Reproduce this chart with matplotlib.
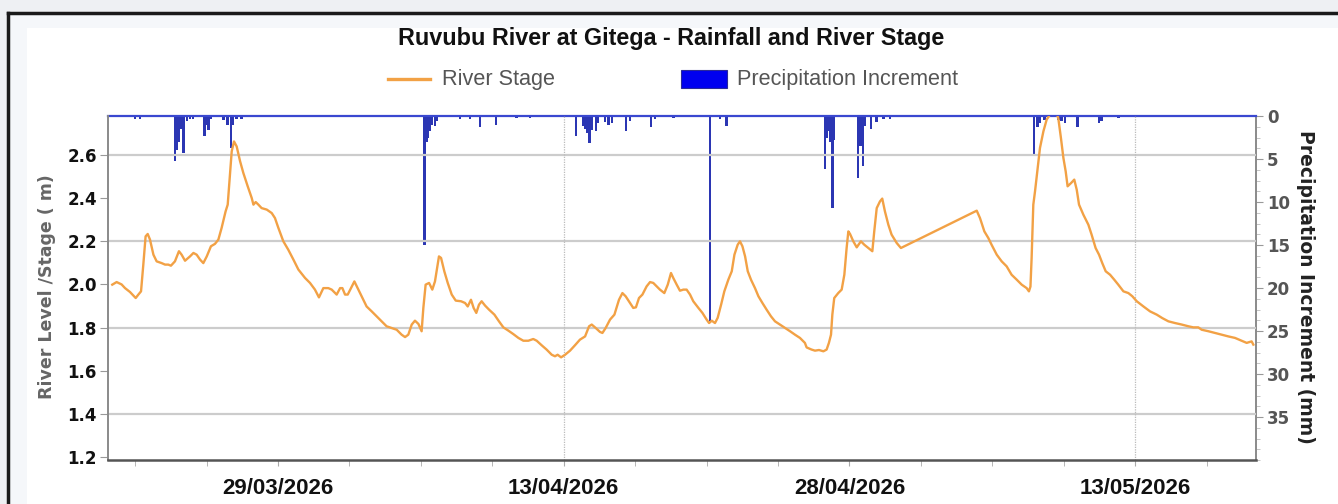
import pandas as pd
import matplotlib
matplotlib.use('Agg')
import matplotlib.pyplot as plt
import matplotlib.dates as mdates
from matplotlib import font_manager
from matplotlib.lines import Line2D
from matplotlib.patches import Rectangle
from matplotlib.ticker import FixedLocator, MultipleLocator, AutoMinorLocator

# days since 20/03/2026 00:00
base = pd.Timestamp('2026-03-20')

stage_day = [0.30, 0.53, 0.79, 0.97, 1.23, 1.53, 1.67, 1.81, 1.93, 2.05, 2.16, 2.28, 2.46, 2.63,
             2.89, 3.07, 3.24, 3.38, 3.59, 3.80, 3.94, 4.12, 4.38, 4.56, 4.73, 4.91, 5.08, 5.26,
             5.48, 5.69, 5.87, 6.04, 6.25, 6.36, 6.48, 6.57, 6.69, 6.83, 7.01, 7.18, 7.41, 7.62,
             7.71, 7.83, 7.97, 8.14, 8.41, 8.67, 8.84, 9.02, 9.28, 9.54, 9.81, 10.07, 10.42, 10.68,
             10.94, 11.15, 11.38, 11.64, 11.82, 12.08, 12.26, 12.38, 12.52, 12.66, 12.83, 13.01,
             13.18, 13.39, 13.65, 13.92, 14.18, 14.44, 14.70, 14.97, 15.23, 15.49, 15.67, 15.84,
             16.02, 16.19, 16.37, 16.54, 16.63, 16.75, 16.93, 17.10, 17.24, 17.45, 17.56, 17.73,
             17.91, 18.12, 18.33, 18.61, 18.82, 18.96, 19.13, 19.27, 19.41, 19.55, 19.69, 19.87,
             20.08, 20.36, 20.60, 20.83, 21.09, 21.35, 21.62, 21.88, 22.14, 22.40, 22.58, 22.84,
             23.10, 23.37, 23.54, 23.68, 23.86, 24.07, 24.33, 24.59, 24.85, 25.12, 25.33, 25.47,
             25.68, 25.90, 26.03, 26.20, 26.43, 26.66, 26.90, 27.08, 27.25, 27.48, 27.65, 27.79,
             27.95, 28.13, 28.35, 28.53, 28.70, 28.88, 29.05, 29.28, 29.46, 29.63, 29.75, 29.93,
             30.10, 30.28, 30.45, 30.63, 30.80, 31.07, 31.28, 31.50, 31.63, 31.77, 31.94, 32.08,
             32.26, 32.43, 32.64, 32.82, 32.96, 33.13, 33.25, 33.38, 33.52, 33.66, 33.83, 34.04,
             34.22, 34.43, 34.65, 34.88, 35.09, 35.35, 35.62, 35.88, 36.14, 36.40, 36.66, 36.75,
             37.01, 37.19, 37.40, 37.63, 37.80, 37.92, 38.03, 38.10, 38.20, 38.41, 38.59, 38.73,
             38.85, 38.94, 39.03, 39.20, 39.38, 39.50, 39.60, 39.78, 39.99, 40.20, 40.30, 40.43,
             40.60, 40.72, 40.86, 41.04, 41.21, 41.48, 41.70, 45.68, 45.85, 46.08, 46.29, 46.46,
             46.73, 46.99, 47.25, 47.51, 47.78, 48.04, 48.30, 48.42, 48.50, 48.56, 48.65, 48.74,
             48.88, 49.00, 49.18, 49.35, 49.58, 49.82, 49.96, 50.10, 50.23, 50.35, 50.45, 50.63,
             50.80, 50.93, 51.05, 51.28, 51.54, 51.71, 51.92, 52.10, 52.27, 52.45, 52.68, 52.90,
             53.11, 53.38, 53.64, 53.85, 54.08, 54.43, 54.78, 55.13, 55.42, 55.74, 56.09, 56.44,
             56.79, 57.05, 57.31, 57.49, 57.84, 58.19, 58.54, 58.89, 59.24, 59.59, 59.85, 60.11,
             60.20]
stage_m = [1.999, 2.011, 2.000, 1.983, 1.965, 1.937, 1.953, 1.968, 2.092, 2.223, 2.234, 2.208, 2.138, 2.107,
           2.099, 2.092, 2.092, 2.087, 2.107, 2.154, 2.138, 2.110, 2.130, 2.146, 2.138, 2.115, 2.099, 2.130,
           2.177, 2.188, 2.208, 2.262, 2.339, 2.370, 2.509, 2.617, 2.663, 2.640, 2.571, 2.517, 2.455, 2.401,
           2.370, 2.382, 2.370, 2.354, 2.347, 2.331, 2.308, 2.262, 2.200, 2.161, 2.115, 2.069, 2.030, 2.007,
           1.976, 1.940, 1.983, 1.983, 1.976, 1.953, 1.983, 1.983, 1.953, 1.953, 1.983, 2.014,
           1.983, 1.945, 1.898, 1.875, 1.852, 1.829, 1.806, 1.798, 1.790, 1.767, 1.756, 1.767,
           1.814, 1.832, 1.817, 1.783, 1.891, 1.999, 2.007, 1.976, 2.014, 2.130, 2.123, 2.061,
           2.007, 1.953, 1.925, 1.922, 1.914, 1.898, 1.929, 1.891, 1.868, 1.906, 1.922, 1.902,
           1.883, 1.860, 1.829, 1.801, 1.786, 1.770, 1.752, 1.739, 1.739, 1.747, 1.739, 1.718,
           1.698, 1.674, 1.667, 1.674, 1.662, 1.674, 1.693, 1.718, 1.744, 1.759, 1.806, 1.814,
           1.798, 1.780, 1.775, 1.798, 1.837, 1.860, 1.929, 1.960, 1.945, 1.914, 1.891, 1.894,
           1.937, 1.953, 1.991, 2.011, 2.007, 1.991, 1.976, 1.960, 1.999, 2.053, 2.030, 1.999,
           1.971, 1.976, 1.976, 1.953, 1.922, 1.891, 1.868, 1.837, 1.821, 1.832, 1.821, 1.845,
           1.906, 1.968, 2.022, 2.061, 2.138, 2.184, 2.200, 2.177, 2.130, 2.061, 2.022, 1.983,
           1.945, 1.914, 1.883, 1.852, 1.829, 1.814, 1.798, 1.783, 1.767, 1.752, 1.729, 1.708,
           1.698, 1.693, 1.696, 1.690, 1.698, 1.729, 1.767, 1.860, 1.937, 1.960, 1.976, 2.045,
           2.169, 2.246, 2.234, 2.200, 2.172, 2.187, 2.200, 2.184, 2.169, 2.154, 2.246, 2.354,
           2.385, 2.398, 2.339, 2.277, 2.231, 2.192, 2.169, 2.342, 2.308, 2.246, 2.215, 2.184,
           2.138, 2.107, 2.084, 2.045, 2.022, 1.999, 1.983, 1.968, 1.990, 2.120, 2.370, 2.432,
           2.540, 2.633, 2.710, 2.764, 2.795, 2.803, 2.772, 2.679, 2.586, 2.524, 2.455, 2.470,
           2.486, 2.439, 2.370, 2.323, 2.277, 2.231, 2.169, 2.138, 2.099, 2.061, 2.045, 2.022,
           1.999, 1.968, 1.960, 1.945, 1.922, 1.898, 1.875, 1.860, 1.844, 1.829, 1.821, 1.814,
           1.806, 1.801, 1.801, 1.790, 1.783, 1.775, 1.767, 1.759, 1.752, 1.739, 1.729, 1.736,
           1.721]

rain_day = [1.49, 1.75, 3.59, 3.68, 3.80, 3.91, 4.03, 4.21, 4.38, 4.55, 5.13, 5.22, 5.34, 5.48,
            6.13, 6.36, 6.53, 6.62, 6.83, 7.09, 16.68, 16.79, 16.86, 16.96, 17.07, 17.24, 17.33,
            18.55, 19.08, 19.60, 20.44, 21.53, 22.23, 24.63, 25.03, 25.12, 25.22, 25.34, 25.47,
            25.68, 25.78, 26.16, 26.34, 26.52, 27.28, 27.48, 28.58, 28.79, 29.75, 31.69, 32.20,
            32.55, 37.71, 37.82, 37.92, 37.99, 38.10, 38.20, 39.46, 39.57, 39.71, 39.81, 40.13,
            40.43, 40.78, 41.13, 48.69, 48.88, 49.00, 49.23, 49.96, 50.14, 50.31, 50.98, 52.10,
            52.24, 53.11]
rain_mm = [0.3, 0.3, 5.2, 4.0, 3.0, 1.5, 4.3, 0.6, 0.4, 0.3, 2.3, 1.0, 1.6, 0.3,
           0.5, 1.0, 3.7, 1.0, 0.4, 0.3, 15.0, 3.0, 2.5, 1.8, 1.0, 1.2, 0.6,
           0.3, 0.4, 1.3, 1.1, 0.2, 0.2, 2.3, 1.2, 1.5, 2.0, 3.1, 1.6,
           1.8, 0.8, 0.7, 1.0, 0.8, 1.8, 0.6, 1.3, 0.4, 0.2, 23.8, 0.3,
           1.2, 6.2, 2.5, 1.8, 3.0, 10.7, 2.8, 7.2, 3.5, 5.8, 1.2, 1.5,
           0.7, 0.4, 0.4, 4.5, 1.3, 0.8, 0.5, 0.5, 0.6, 0.8, 1.3, 0.8,
           0.6, 0.2]

tick_dates = ['2026-03-29', '2026-04-13', '2026-04-28', '2026-05-13']
vgrid_dates = ['2026-04-13', '2026-05-13']
hgrid_levels = [1.4, 1.8, 2.2, 2.6]

stage_time = base + pd.to_timedelta(stage_day, unit='D')
rain_time = base + pd.to_timedelta(rain_day, unit='D')

names = {f.name for f in font_manager.fontManager.ttflist}
if 'Liberation Sans Narrow' in names:
    narrow, nscale = 'Liberation Sans Narrow', 1.0
else:
    narrow, nscale = 'Liberation Sans', 0.82

W, H = 1338, 504
fig = plt.figure(figsize=(W / 100, H / 100), dpi=100, facecolor='#eef0f3')
fig.patches.append(Rectangle((8 / W, 0), 1, 1 - 13 / H, transform=fig.transFigure,
                             facecolor='#f5f7fa', edgecolor='none', zorder=-3))
fig.patches.append(Rectangle((27 / W, 0), 1, 1 - 28 / H, transform=fig.transFigure,
                             facecolor='white', edgecolor='none', zorder=-2))
fig.lines.append(Line2D([8 / W, 1], [1 - 13 / H] * 2, transform=fig.transFigure, color='#1a1a1a', lw=2.5))
fig.lines.append(Line2D([8 / W] * 2, [0, 1 - 13 / H], transform=fig.transFigure, color='#1a1a1a', lw=2.5))

ax = fig.add_axes([108 / W, 1 - 460 / H, (1256 - 108) / W, (460 - 116) / H])
ax2 = ax.twinx()
ax.set_zorder(ax2.get_zorder() + 1)
ax.patch.set_visible(False)

# precipitation bars hanging from the top
ax2.bar(rain_time, rain_mm, width=0.13, color='#2b36b3', align='center', zorder=2)
ax2.axhline(0, color='#3a48d0', lw=1.6, zorder=3, clip_on=False)
ax2.set_ylim(40, 0)
ax2.set_yticks([0, 5, 10, 15, 20, 25, 30, 35])
ax2.yaxis.set_minor_locator(AutoMinorLocator(4))
ax2.tick_params(axis='y', which='major', length=5, color='#999999', pad=3,
                labelsize=12, labelcolor='#555555')
ax2.tick_params(axis='y', which='minor', length=3, color='#bbbbbb')
for lab in ax2.get_yticklabels():
    lab.set_fontweight('bold')

# river stage
ax.plot(stage_time, stage_m, color='#f2a145', lw=1.7, zorder=3)
for lv in hgrid_levels:
    ax.axhline(lv, color='#cccccc', lw=1.6, zorder=1)
for d in vgrid_dates:
    ax.axvline(pd.Timestamp(d), color='#bbbbbb', lw=0.9, ls=(0, (1, 1)), zorder=1)

ax.set_xlim(base + pd.Timedelta(days=0.076), base + pd.Timedelta(days=60.34))
ax.set_ylim(1.186, 2.781)
ax.set_yticks([1.2, 1.4, 1.6, 1.8, 2.0, 2.2, 2.4, 2.6])
ax.yaxis.set_major_formatter(plt.FormatStrFormatter('%.1f'))
ticks = pd.to_datetime(tick_dates)
ax.xaxis.set_major_locator(FixedLocator(mdates.date2num(ticks)))
first = mdates.date2num(ticks[0])
minor = [first + k * 3.75 for k in range(-2, 16)]
ax.xaxis.set_minor_locator(FixedLocator(minor))
ax.xaxis.set_major_formatter(mdates.DateFormatter('%d/%m/%Y'))
ax.tick_params(axis='x', which='both', length=4, color='#aaaaaa', pad=9,
               labelsize=16, labelcolor='#111111')
ax.tick_params(axis='y', length=6, color='#999999', pad=2, labelsize=12, labelcolor='#111111')
for lab in ax.get_xticklabels():
    lab.set_fontweight('bold')
    lab.set_fontfamily('Liberation Sans')
for lab in ax.get_yticklabels():
    lab.set_fontweight('bold')

for a in (ax, ax2):
    a.spines['top'].set_visible(False)
ax.spines['right'].set_visible(False)
ax2.spines['left'].set_visible(False)
ax2.spines['bottom'].set_visible(False)
ax.spines['left'].set_color('#8a8a8a')
ax.spines['left'].set_linewidth(1.4)
ax.spines['bottom'].set_color('#555555')
ax.spines['bottom'].set_linewidth(1.8)
ax2.spines['right'].set_color('#8a8a8a')
ax2.spines['right'].set_linewidth(1.4)

fig.text(671 / W, 1 - 38 / H, 'Ruvubu River at Gitega - Rainfall and River Stage',
         ha='center', va='center', fontsize=20.5 * nscale, fontweight='bold',
         family=narrow, color='#111111')

# legend drawn in figure pixels
ly = 1 - 79 / H
fig.lines.append(Line2D([388 / W, 430 / W], [ly, ly], transform=fig.transFigure,
                        color='#f2a145', lw=2.4))
fig.text(442 / W, ly, 'River Stage', ha='left', va='center', fontsize=19 * nscale,
         family=narrow, color='#555555')
fig.patches.append(Rectangle((681 / W, 1 - 88 / H), 46 / W, 18 / H, transform=fig.transFigure,
                             facecolor='#0000f0', edgecolor='#2a2a9a', lw=0.8))
fig.text(737 / W, ly, 'Precipitation Increment', ha='left', va='center', fontsize=19 * nscale,
         family=narrow, color='#555555')

fig.text(47 / W, 1 - 287 / H, 'River Level /Stage ( m)', rotation=90, ha='center', va='center',
         fontsize=12.5, fontweight='bold', color='#666666')
fig.text(1305 / W, 1 - 287 / H, 'Precipitation Increment (mm)', rotation=270, ha='center',
         va='center', fontsize=13.5, fontweight='bold', color='#222222')

fig.savefig('out.png', dpi=100, facecolor=fig.get_facecolor())
